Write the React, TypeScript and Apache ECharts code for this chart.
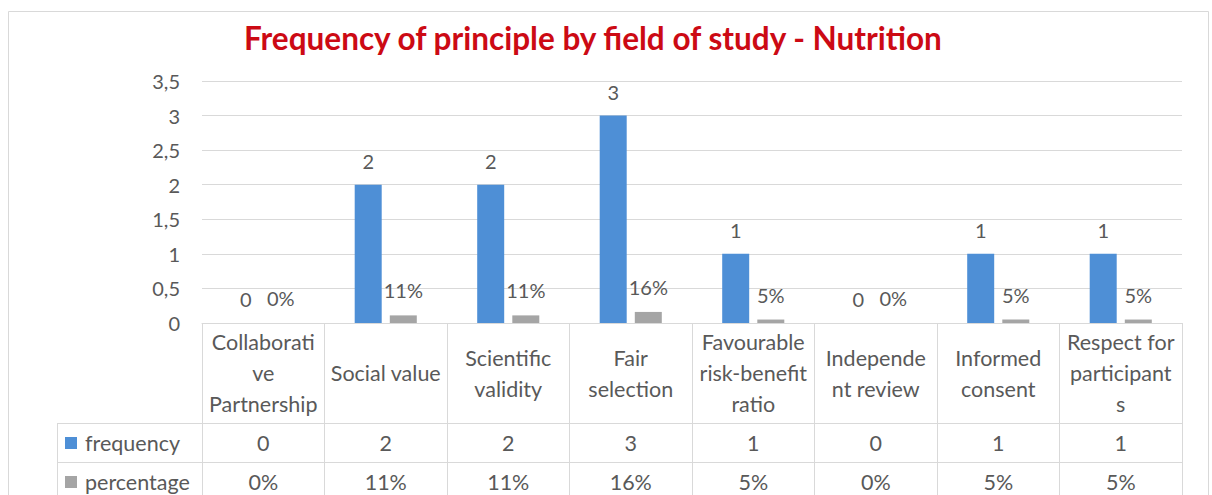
import React, { useEffect, useRef } from "react";
import * as echarts from "echarts";

const categories = [
  "Collaborative Partnership",
  "Social value",
  "Scientific validity",
  "Fair selection",
  "Favourable risk-benefit ratio",
  "Independent review",
  "Informed consent",
  "Respect for participants",
];
const categoryLines = [
  "Collaborati\nve\nPartnership",
  "Social value",
  "Scientific\nvalidity",
  "Fair\nselection",
  "Favourable\nrisk-benefit\nratio",
  "Independe\nnt review",
  "Informed\nconsent",
  "Respect for\nparticipant\ns",
];
const frequency = [0, 2, 2, 3, 1, 0, 1, 1];
const percentage = [0, 0.11, 0.11, 0.16, 0.05, 0, 0.05, 0.05];
const yTicks = { min: 0, max: 3.5, interval: 0.5 };

const FONT = "Lato";
const TXT = "#595959";
const LINE = "#d9d9d9";
const BLUE = "#4e8fd6";
const GRAY = "#a5a5a5";

const pct = (v: number) => Math.round(v * 100) + "%";

export default function App() {
  const ref = useRef<HTMLDivElement>(null);
  useEffect(() => {
    if (!ref.current) return;
    const chart = echarts.init(ref.current, null, { renderer: "svg" });
    const labelBase = { fontFamily: FONT, fontSize: 20, color: TXT };
    const tableBase = { fontFamily: FONT, fontSize: 21.5, color: TXT };
    chart.setOption({
      animation: false,
      backgroundColor: "#fff",
      title: {
        text: "Frequency of principle by field of study - Nutrition",
        left: 244,
        top: 22,
        padding: 0,
        textStyle: { fontFamily: FONT, fontWeight: "bold", fontSize: 31.5, color: "#cc0a14" },
      },
      legend: [
        {
          data: ["frequency"],
          left: 65,
          top: 432,
          padding: 0,
          icon: "rect",
          itemWidth: 12,
          itemHeight: 12,
          itemGap: 0,
          textStyle: { ...tableBase, lineHeight: 22, padding: [0, 0, 0, 3] },
          selectedMode: false,
        },
        {
          data: ["percentage"],
          left: 65,
          top: 471,
          padding: 0,
          icon: "rect",
          itemWidth: 12,
          itemHeight: 12,
          itemGap: 0,
          textStyle: { ...tableBase, lineHeight: 22, padding: [0, 0, 0, 3] },
          selectedMode: false,
        },
      ],
      grid: { left: 202, right: 30, top: 81, bottom: 172, containLabel: false },
      xAxis: [
        {
          type: "category",
          data: categories,
          axisLine: { show: true, lineStyle: { color: LINE } },
          axisTick: { show: true, length: 180, lineStyle: { color: LINE } },
          axisLabel: {
            ...tableBase,
            interval: 0,
            margin: 50,
            verticalAlign: "middle",
            lineHeight: 31,
            formatter: (_v: string, i: number) => categoryLines[i],
          },
        },
        {
          type: "category",
          data: categories,
          position: "bottom",
          offset: 100,
          axisLine: { show: true, lineStyle: { color: LINE } },
          axisTick: { show: false },
          axisLabel: {
            ...tableBase,
            interval: 0,
            margin: 20,
            verticalAlign: "middle",
            formatter: (_v: string, i: number) => String(frequency[i]),
          },
        },
        {
          type: "category",
          data: categories,
          position: "bottom",
          offset: 139,
          axisLine: { show: true, lineStyle: { color: LINE } },
          axisTick: { show: false },
          axisLabel: {
            ...tableBase,
            interval: 0,
            margin: 20,
            verticalAlign: "middle",
            formatter: (_v: string, i: number) => pct(percentage[i]),
          },
        },
      ],
      yAxis: {
        type: "value",
        min: yTicks.min,
        max: yTicks.max,
        interval: yTicks.interval,
        axisLine: { show: false },
        axisTick: { show: false },
        splitLine: { lineStyle: { color: LINE } },
        axisLabel: {
          ...labelBase,
          margin: 22,
          formatter: (v: number) => String(v).replace(".", ","),
        },
      },
      series: [
        {
          name: "frequency",
          type: "bar",
          data: frequency,
          barWidth: 27,
          barGap: "30%",
          itemStyle: { color: BLUE },
          label: { show: true, position: "top", distance: 14, ...labelBase },
        },
        {
          name: "percentage",
          type: "bar",
          data: percentage,
          barWidth: 27,
          itemStyle: { color: GRAY },
          label: {
            show: true,
            position: "top",
            distance: 15,
            ...labelBase,
            formatter: (p: any) => pct(p.value),
          },
        },
      ],
      graphic: [
        {
          type: "rect",
          shape: { x: 8.5, y: 11.5, width: 1200, height: 520 },
          style: { fill: "none", stroke: LINE, lineWidth: 1 },
          silent: true,
        },
        {
          type: "line",
          shape: { x1: 57, y1: 423.5, x2: 202, y2: 423.5 },
          style: { stroke: LINE, lineWidth: 1 },
          silent: true,
        },
        {
          type: "line",
          shape: { x1: 57, y1: 462.5, x2: 202, y2: 462.5 },
          style: { stroke: LINE, lineWidth: 1 },
          silent: true,
        },
        {
          type: "line",
          shape: { x1: 57.5, y1: 423, x2: 57.5, y2: 495 },
          style: { stroke: LINE, lineWidth: 1 },
          silent: true,
        },
      ],
    });
    return () => chart.dispose();
  }, []);
  return (
    <div
      ref={ref}
      style={{ position: "fixed", left: 0, top: 0, width: 1212, height: 495, background: "#fff" }}
    />
  );
}
